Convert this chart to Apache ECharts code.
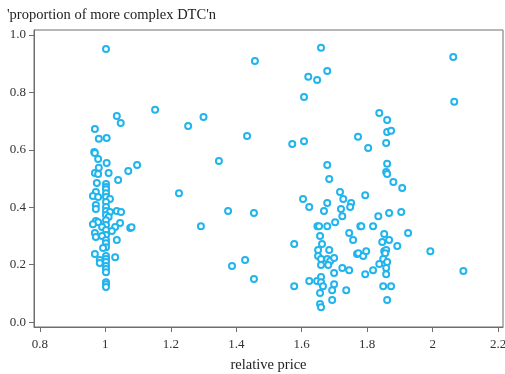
<!DOCTYPE html>
<html>
<head>
<meta charset="utf-8">
<script src="https://cdn.jsdelivr.net/npm/echarts@6/dist/echarts.min.js"></script>
<style>
  html, body { margin: 0; padding: 0; background: #fff; }
  #chart { width: 505px; height: 374px; }
</style>
</head>
<body>
<div id="chart"></div>
<script>
// Relative price of each observation (x)
const relativePrice = [
  1.002, 1.152, 1.035, 1.047, 1.300, 1.253, 0.968, 0.980, 1.004, 0.966,
  0.968, 0.978, 1.004, 0.980, 1.097, 1.070, 1.347, 1.010, 0.968, 0.978,
  1.039, 0.974, 1.002, 1.002, 1.002, 0.971, 0.962, 0.978, 1.225, 1.002,
  1.002, 1.014, 1.002, 0.971, 0.971, 1.002, 1.035, 1.048, 1.002, 1.014,
  1.002, 1.010, 0.971, 0.978, 0.962, 1.045, 1.002, 1.002, 0.990, 1.030,
  1.076, 1.080, 1.292, 1.002, 1.020, 0.968, 0.971, 1.002, 0.990, 1.002,
  1.035, 1.002, 1.002, 0.993, 0.968, 1.030, 1.002, 0.983, 0.983, 1.002,
  1.002, 1.002, 1.002, 1.002, 1.002, 1.002, 1.002,
  1.433, 1.457, 1.375, 1.454, 1.427, 1.387, 1.454,
  1.659, 1.620, 1.647, 1.678, 1.607, 1.571, 1.607, 1.772, 1.678, 1.684,
  1.717, 1.727, 1.751, 1.748, 1.604, 1.623, 1.678, 1.668, 1.720, 1.724,
  1.702, 1.648, 1.653, 1.678, 1.745, 1.779, 1.656, 1.662, 1.757, 1.577,
  1.650, 1.684, 1.650, 1.769, 1.659, 1.678, 1.687, 1.699, 1.659, 1.681,
  1.724, 1.745, 1.699, 1.623, 1.647, 1.659, 1.659, 1.665, 1.577, 1.699,
  1.736, 1.693, 1.656, 1.693, 1.656, 1.659,
  2.063, 2.066, 1.837, 1.861, 1.861, 1.873, 1.803, 1.858, 1.861, 1.858,
  1.861, 1.880, 1.907, 1.794, 1.834, 1.867, 1.904, 1.782, 1.818, 1.852,
  1.925, 1.846, 1.867, 1.892, 1.993, 1.773, 1.788, 1.797, 1.852, 1.858,
  1.855, 1.849, 1.861, 1.837, 1.818, 1.794, 1.858, 1.858, 2.094, 1.849,
  1.873, 1.861
];

// Proportion of more complex DTC'n for the same observations (y)
const complexShare = [
  0.951, 0.739, 0.718, 0.693, 0.714, 0.683, 0.672, 0.638, 0.641, 0.592,
  0.589, 0.568, 0.554, 0.537, 0.547, 0.526, 0.561, 0.519, 0.519, 0.516,
  0.495, 0.484, 0.481, 0.470, 0.463, 0.453, 0.439, 0.436, 0.449, 0.449,
  0.436, 0.429, 0.418, 0.408, 0.394, 0.401, 0.387, 0.383, 0.387, 0.383,
  0.373, 0.366, 0.352, 0.348, 0.341, 0.345, 0.355, 0.338, 0.331, 0.331,
  0.328, 0.330, 0.334, 0.321, 0.317, 0.310, 0.296, 0.303, 0.300, 0.286,
  0.286, 0.275, 0.261, 0.258, 0.237, 0.226, 0.230, 0.216, 0.206, 0.220,
  0.209, 0.195, 0.185, 0.174, 0.139, 0.132, 0.122,
  0.648, 0.909, 0.387, 0.380, 0.216, 0.195, 0.150,
  0.955, 0.854, 0.843, 0.874, 0.784, 0.620, 0.630, 0.645, 0.547, 0.498,
  0.453, 0.429, 0.415, 0.401, 0.429, 0.401, 0.415, 0.387, 0.394, 0.369,
  0.348, 0.334, 0.334, 0.334, 0.310, 0.334, 0.300, 0.272, 0.286, 0.272,
  0.251, 0.251, 0.230, 0.237, 0.220, 0.220, 0.213, 0.223, 0.199, 0.199,
  0.188, 0.181, 0.171, 0.143, 0.143, 0.157, 0.139, 0.125, 0.125, 0.132,
  0.111, 0.111, 0.101, 0.077, 0.063, 0.052,
  0.923, 0.767, 0.728, 0.704, 0.662, 0.666, 0.606, 0.624, 0.551, 0.523,
  0.516, 0.488, 0.467, 0.442, 0.369, 0.380, 0.383, 0.334, 0.334, 0.307,
  0.310, 0.279, 0.286, 0.265, 0.247, 0.240, 0.230, 0.247, 0.247, 0.251,
  0.240, 0.220, 0.209, 0.202, 0.181, 0.167, 0.188, 0.167, 0.178, 0.125,
  0.125, 0.077
];

// Tick positions on each axis
const xTicks = [0.8, 1.0, 1.2, 1.4, 1.6, 1.8, 2.0, 2.2];
const yTicks = [0.0, 0.2, 0.4, 0.6, 0.8, 1.0];

const points = relativePrice.map((x, i) => [x, complexShare[i]]);

const serif = '"Liberation Serif", "DejaVu Serif", serif';
const frame = '#6e6e6e';

const chart = echarts.init(document.getElementById('chart'), null, { renderer: 'canvas' });
chart.setOption({
  animation: false,
  backgroundColor: '#ffffff',
  title: {
    text: "'proportion of more complex DTC'n",
    left: 2,
    top: 3,
    textStyle: { fontFamily: serif, fontSize: 14.5, fontWeight: 'normal', color: '#222' }
  },
  grid: {
    left: 34, right: 2, top: 30, bottom: 47,
    outerBoundsMode: 'none',
    containLabel: false,
    show: true, borderColor: frame, borderWidth: 1, backgroundColor: 'transparent'
  },
  xAxis: {
    type: 'value',
    min: 0.782, max: 2.215,
    name: 'relative price',
    nameLocation: 'middle',
    nameGap: 31,
    nameTextStyle: { fontFamily: serif, fontSize: 14.5, color: '#222' },
    axisLine: { show: true, onZero: false, lineStyle: { color: frame, width: 1 } },
    axisTick: { show: true, length: 5, customValues: xTicks, lineStyle: { color: frame } },
    axisLabel: {
      customValues: xTicks, margin: 11,
      fontFamily: serif, fontSize: 13, color: '#333',
      formatter: v => String(Math.round(v * 10) / 10)
    },
    splitLine: { show: false }
  },
  yAxis: {
    type: 'value',
    min: -0.017, max: 1.017,
    axisLine: { show: true, onZero: false, lineStyle: { color: frame, width: 1 } },
    axisTick: { show: true, length: 5, customValues: yTicks, lineStyle: { color: frame } },
    axisLabel: {
      customValues: yTicks, margin: 8,
      fontFamily: serif, fontSize: 13, color: '#333',
      formatter: v => v.toFixed(1)
    },
    splitLine: { show: false }
  },
  series: [{
    type: 'scatter',
    data: points,
    symbol: 'emptyCircle',
    symbolSize: 6,
    itemStyle: { color: '#22b4ec', borderWidth: 1.1, opacity: 1 }
  }]
});
</script>
</body>
</html>
